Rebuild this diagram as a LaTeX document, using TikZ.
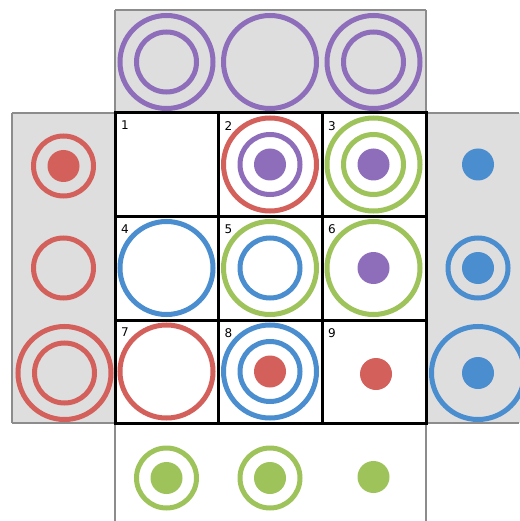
\documentclass[tikz,border=0pt]{standalone}
\usepackage{fontspec}
\setmainfont{DejaVu Sans}
\definecolor{cred}{HTML}{D3605A}
\definecolor{cblue}{HTML}{4A8ECF}
\definecolor{cgreen}{HTML}{9DC35A}
\definecolor{cpurple}{HTML}{8E6DBB}
\definecolor{cpanel}{HTML}{DEDEDE}
\definecolor{cedge}{HTML}{8C8C8C}
\begin{document}
\begin{tikzpicture}[x=1pt,y=-1pt,
  ring/.style={line width=5pt},
  panel/.style={fill=cpanel},
  edge/.style={draw=cedge,line width=1.1pt},
  gridline/.style={draw=black,line width=3pt},
  lbl/.style={anchor=north west,inner sep=0pt,font=\fontsize{12}{14}\selectfont}]
\useasboundingbox (0,0) rectangle (519,521);
% panels
\fill[panel] (115,10) rectangle (426,113);
\fill[panel] (12,113) rectangle (115,423);
\fill[panel] (426,113) rectangle (530,423);
\fill[white] (115,113) rectangle (426,423);
% panel edges
\draw[edge] (115,10) -- (426,10);
\draw[edge] (115,10) -- (115,521);
\draw[edge] (426,10) -- (426,521);
\draw[edge] (12,113) -- (519,113);
\draw[edge] (12,423) -- (519,423);
\draw[edge] (12,113) -- (12,423);
% top panel (purple)
\draw[ring,cpurple] (166.5,62) circle (46.5);
\draw[ring,cpurple] (166.5,62) circle (30);
\draw[ring,cpurple] (270,62) circle (46.5);
\draw[ring,cpurple] (373.5,62) circle (46.5);
\draw[ring,cpurple] (373.5,62) circle (30);
% left panel (red)
\draw[ring,cred] (63.5,166) circle (30);
\fill[cred] (63.5,166) circle (16);
\draw[ring,cred] (63.5,268) circle (30);
\draw[ring,cred] (64.5,373) circle (46.5);
\draw[ring,cred] (64.5,373) circle (30);
% right panel (blue)
\fill[cblue] (478,164.5) circle (16);
\draw[ring,cblue] (478,268) circle (30);
\fill[cblue] (478,268) circle (16);
\draw[ring,cblue] (478,373) circle (46.5);
\fill[cblue] (478,373) circle (16);
% bottom panel (green)
\draw[ring,cgreen] (166.5,478) circle (30);
\fill[cgreen] (166.5,478) circle (16);
\draw[ring,cgreen] (270,478) circle (30);
\fill[cgreen] (270,478) circle (16);
\fill[cgreen] (373.5,477) circle (16);
% cell 2
\draw[ring,cred] (270,164.5) circle (46.5);
\draw[ring,cpurple] (270,164.5) circle (30);
\fill[cpurple] (270,164.5) circle (16);
% cell 3
\draw[ring,cgreen] (373.5,164.5) circle (46.5);
\draw[ring,cgreen] (373.5,164.5) circle (30);
\fill[cpurple] (373.5,164.5) circle (16);
% cell 4
\draw[ring,cblue] (166.5,268) circle (46.5);
% cell 5
\draw[ring,cgreen] (270,268) circle (46.5);
\draw[ring,cblue] (270,268) circle (30);
% cell 6
\draw[ring,cgreen] (373.5,268) circle (46.5);
\fill[cpurple] (373.5,268) circle (16);
% cell 7
\draw[ring,cred] (166.5,371.5) circle (46.5);
% cell 8
\draw[ring,cblue] (270,371.5) circle (46.5);
\draw[ring,cblue] (270,371.5) circle (30);
\fill[cred] (270,371.5) circle (16);
% cell 9
\fill[cred] (376,374) circle (16);
% grid
\draw[gridline] (115,113) rectangle (426,423);
\draw[gridline] (218.5,113) -- (218.5,423);
\draw[gridline] (322,113) -- (322,423);
\draw[gridline] (115,216.5) -- (426,216.5);
\draw[gridline] (115,320) -- (426,320);
% labels
\node[lbl] (n1) at (121,121) {1};
\node[lbl] (n2) at (224.5,121) {2};
\node[lbl] (n3) at (328,121) {3};
\node[lbl] (n4) at (121,224.5) {4};
\node[lbl] (n5) at (224.5,224.5) {5};
\node[lbl] (n6) at (328,224.5) {6};
\node[lbl] (n7) at (121,328) {7};
\node[lbl] (n8) at (224.5,328) {8};
\node[lbl] (n9) at (328,328) {9};
\end{tikzpicture}
\end{document}
